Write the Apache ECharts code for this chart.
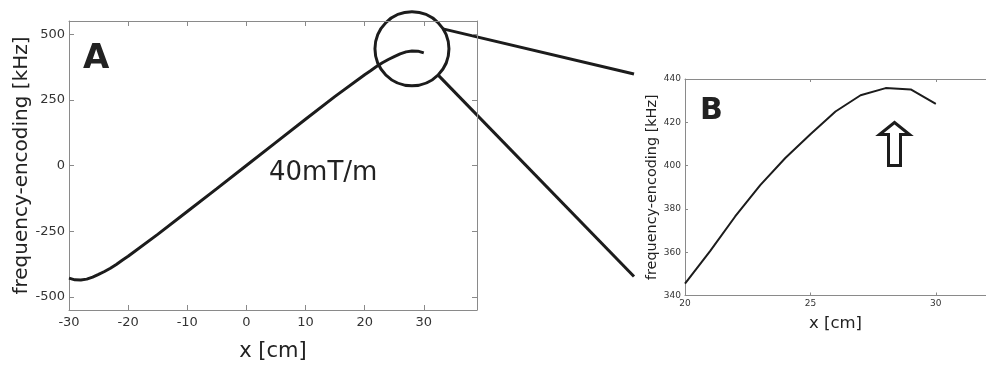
<!DOCTYPE html>
<html>
<head>
<meta charset="utf-8">
<script src="https://cdn.jsdelivr.net/npm/echarts@6/dist/echarts.min.js"></script>
<style>
html, body { margin: 0; padding: 0; background: #fff; }
#chart { width: 986px; height: 367px; }
</style>
</head>
<body>
<div id="chart"></div>
<script>
// panel A - whole range
var xA = [-30, -29, -28, -27, -26, -25, -24, -23, -22, -21, -20, -15, -10, -5, 0, 5, 10, 15, 20, 21, 22, 23, 24, 25, 26, 27, 28, 29, 30];
var yA = [-428.5, -435.2, -435.8, -432.5, -425, -414.5, -403.5, -391, -376.5, -360.5, -345.5, -262, -175, -88, 0, 88, 176, 263, 345.5, 360.5, 376.5, 391, 403.5, 414.5, 425, 432.5, 435.8, 435.2, 428.5];
// panel B - zoom on the end
var xB = [20, 21, 22, 23, 24, 25, 26, 27, 28, 29, 30];
var yB = [345.5, 360.5, 376.5, 391, 403.5, 414.5, 425, 432.5, 435.8, 435.2, 428.5];

var ticksAx = [-30, -20, -10, 0, 10, 20, 30];
var ticksAy = [-500, -250, 0, 250, 500];
var ticksBx = [20, 25, 30];
var ticksBy = [340, 360, 380, 400, 420, 440];

var FONT = 'DejaVu Sans';
var AXIS_COLOR = '#8a8a8a';

function pairs(xs, ys) {
    var out = [];
    for (var i = 0; i < xs.length; i++) {
        out.push([xs[i], ys[i]]);
    }
    return out;
}

var chart = echarts.init(document.getElementById('chart'));

var option = {
    animation: false,
    backgroundColor: '#fff',
    grid: [
        { left: 69, top: 21, width: 408, height: 291 },
        { left: 685, top: 79, width: 310, height: 216.5 }
    ],
    xAxis: [{
        // A bottom
        type: 'value', gridIndex: 0, position: 'bottom', min: -30, max: 39,
        axisLine: { onZero: false, lineStyle: { color: AXIS_COLOR, width: 1 } },
        axisTick: { inside: true, length: 5, customValues: ticksAx, lineStyle: { color: AXIS_COLOR } },
        axisLabel: { customValues: ticksAx, margin: 6, fontFamily: FONT, fontSize: 13, color: '#333' },
        splitLine: { show: false },
        name: 'x [cm]', nameLocation: 'middle', nameGap: 31,
        nameTextStyle: { fontFamily: FONT, fontSize: 21, color: '#222' }
    }, {
        // A top
        type: 'value', gridIndex: 0, position: 'top', min: -30, max: 39,
        axisLine: { onZero: false, lineStyle: { color: AXIS_COLOR, width: 1 } },
        axisTick: { inside: true, length: 5, customValues: ticksAx, lineStyle: { color: AXIS_COLOR } },
        axisLabel: { show: false },
        splitLine: { show: false }
    }, {
        // B bottom
        type: 'value', gridIndex: 1, position: 'bottom', min: 20, max: 32,
        axisLine: { onZero: false, lineStyle: { color: AXIS_COLOR, width: 1 } },
        axisTick: { inside: true, length: 3, customValues: ticksBx, lineStyle: { color: AXIS_COLOR } },
        axisLabel: { customValues: ticksBx, margin: 4, fontFamily: FONT, fontSize: 9, color: '#333' },
        splitLine: { show: false },
        name: 'x [cm]', nameLocation: 'middle', nameGap: 20,
        nameTextStyle: { fontFamily: FONT, fontSize: 16.5, color: '#222' }
    }, {
        // B top
        type: 'value', gridIndex: 1, position: 'top', min: 20, max: 32,
        axisLine: { onZero: false, lineStyle: { color: AXIS_COLOR, width: 1 } },
        axisTick: { inside: true, length: 3, customValues: ticksBx, lineStyle: { color: AXIS_COLOR } },
        axisLabel: { show: false },
        splitLine: { show: false }
    }],
    yAxis: [{
        // A left
        type: 'value', gridIndex: 0, position: 'left', min: -550, max: 550,
        axisLine: { show: true, onZero: false, lineStyle: { color: AXIS_COLOR, width: 1 } },
        axisTick: { show: true, inside: true, length: 5, customValues: ticksAy, lineStyle: { color: AXIS_COLOR } },
        axisLabel: { customValues: ticksAy, margin: 4, fontFamily: FONT, fontSize: 13, color: '#333' },
        splitLine: { show: false },
        name: 'frequency-encoding [kHz]', nameLocation: 'middle', nameGap: 36, nameRotate: 90,
        nameTextStyle: { fontFamily: FONT, fontSize: 20, color: '#222' }
    }, {
        // A right
        type: 'value', gridIndex: 0, position: 'right', min: -550, max: 550,
        axisLine: { show: true, onZero: false, lineStyle: { color: AXIS_COLOR, width: 1 } },
        axisTick: { show: true, inside: true, length: 5, customValues: ticksAy, lineStyle: { color: AXIS_COLOR } },
        axisLabel: { show: false },
        splitLine: { show: false }
    }, {
        // B left
        type: 'value', gridIndex: 1, position: 'left', min: 340, max: 440, interval: 20,
        axisLine: { show: true, onZero: false, lineStyle: { color: AXIS_COLOR, width: 1 } },
        axisTick: { show: true, inside: true, length: 3, lineStyle: { color: AXIS_COLOR } },
        axisLabel: { margin: 4, fontFamily: FONT, fontSize: 9, color: '#333' },
        splitLine: { show: false },
        name: 'frequency-encoding [kHz]', nameLocation: 'middle', nameGap: 26, nameRotate: 90,
        nameTextStyle: { fontFamily: FONT, fontSize: 14.4, color: '#222' }
    }],
    series: [{
        name: 'A', type: 'line', xAxisIndex: 0, yAxisIndex: 0,
        data: pairs(xA, yA), showSymbol: false, smooth: false,
        lineStyle: { color: '#1c1c1c', width: 3 }
    }, {
        name: 'B', type: 'line', xAxisIndex: 2, yAxisIndex: 2,
        data: pairs(xB, yB), showSymbol: false, smooth: false,
        lineStyle: { color: '#1c1c1c', width: 2 }
    }]
};
chart.setOption(option);

// zoom circle on panel A, centred on the peak
var c = chart.convertToPixel({ xAxisIndex: 0, yAxisIndex: 0 }, [28, 444]);
var LINE = '#1c1c1c';
chart.setOption({
    graphic: [
        { type: 'circle', shape: { cx: c[0], cy: c[1], r: 37 }, style: { fill: 'none', stroke: LINE, lineWidth: 3 }, silent: true },
        { type: 'line', shape: { x1: c[0] + 31, y1: c[1] - 20, x2: 634, y2: 74 }, style: { stroke: LINE, lineWidth: 3 }, silent: true },
        { type: 'line', shape: { x1: c[0] + 26, y1: c[1] + 26, x2: 634, y2: 276.5 }, style: { stroke: LINE, lineWidth: 3 }, silent: true },
        { type: 'text', left: 83, top: 42, style: { text: 'A', font: 'bold 34px "DejaVu Sans"', fill: '#222' }, silent: true },
        { type: 'text', left: 269, top: 160, style: { text: '40mT/m', font: '26px "DejaVu Sans"', fill: '#222' }, silent: true },
        { type: 'text', left: 700, top: 96, style: { text: 'B', font: 'bold 30px "DejaVu Sans"', fill: '#222' }, silent: true },
        {
            type: 'polygon', silent: true,
            shape: { points: [[894.5, 122.5], [879.5, 134.5], [888.5, 134.5], [888.5, 165.5], [900.5, 165.5], [900.5, 134.5], [909.5, 134.5]] },
            style: { fill: '#fff', stroke: LINE, lineWidth: 3, lineJoin: 'miter' }
        }
    ]
});
</script>
</body>
</html>
